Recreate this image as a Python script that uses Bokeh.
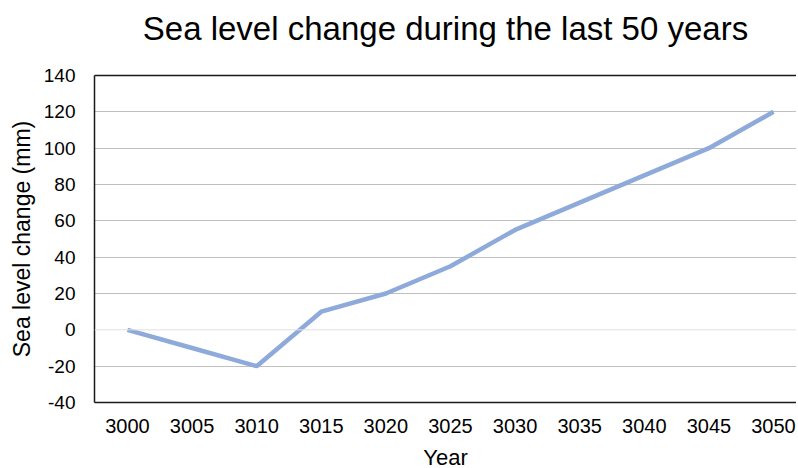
from bokeh.plotting import figure
from bokeh.models import FixedTicker, Span, Range1d, CustomJSTickFormatter, LinearAxis
from bokeh.embed import file_html
from bokeh.resources import INLINE

years = [3000, 3005, 3010, 3015, 3020, 3025, 3030, 3035, 3040, 3045, 3050]
sea_level = [0, -10, -20, 10, 20, 35, 55, 70, 85, 100, 120]
y_ticks = [-40, -20, 0, 20, 40, 60, 80, 100, 120, 140]
title_text = "Sea level change during the last 50 years"

FONT = "Liberation Sans"

p = figure(
    output_backend="svg", toolbar_location=None,
    frame_width=702, frame_height=327,
    min_border_left=94, min_border_right=0, min_border_top=75, min_border_bottom=64,
    x_range=Range1d(2997.45, 3051.78), y_range=Range1d(-40, 140),
    background_fill_color="white", border_fill_color="white",
)
p.outline_line_color = None

bottom_axis = p.below[0]
left_axis = p.left[0]

for ax in (bottom_axis, left_axis):
    ax.axis_line_color = "#1a1a1a"
    ax.axis_line_width = 1.5
    ax.major_tick_line_color = None
    ax.minor_tick_line_color = None
    ax.major_label_text_font = FONT
    ax.major_label_text_color = "black"
    ax.axis_label_text_font = FONT
    ax.axis_label_text_font_style = "normal"
    ax.axis_label_text_color = "black"

bottom_axis.ticker = FixedTicker(ticks=years)
bottom_axis.major_label_text_font_size = "20px"
bottom_axis.major_label_standoff = 10
bottom_axis.axis_label = "Year"
bottom_axis.axis_label_text_font_size = "22px"
bottom_axis.axis_label_standoff = 9

left_axis.ticker = FixedTicker(ticks=y_ticks)
left_axis.formatter = CustomJSTickFormatter(code="return tick.toString();")
left_axis.major_label_text_font_size = "19px"
left_axis.major_label_standoff = 13
left_axis.axis_label = "Sea level change (mm)"
left_axis.axis_label_text_font_size = "23px"
left_axis.axis_label_standoff = 6

# title drawn as the label of a top axis (its line is the top border)
top = LinearAxis(ticker=FixedTicker(ticks=[]))
top.axis_line_color = "#1a1a1a"
top.axis_line_width = 1.5
top.major_tick_line_color = None
top.minor_tick_line_color = None
top.major_label_standoff = 0
top.axis_label = title_text
top.axis_label_text_font = FONT
top.axis_label_text_font_size = "33px"
top.axis_label_text_font_style = "normal"
top.axis_label_text_color = "black"
top.axis_label_standoff = 29
p.add_layout(top, "above")

# grid
p.xgrid.visible = False
p.ygrid.ticker = FixedTicker(ticks=[t for t in y_ticks if t not in (0, 140)])
p.ygrid.grid_line_color = "#bfbfbf"
p.ygrid.grid_line_width = 1
p.add_layout(Span(location=0, dimension="width", line_color="#e0e0e0", line_width=1))

p.line(years, sea_level, line_color="#8eaadb", line_width=4.5)

open("out.html", "w").write(file_html(p, INLINE))
